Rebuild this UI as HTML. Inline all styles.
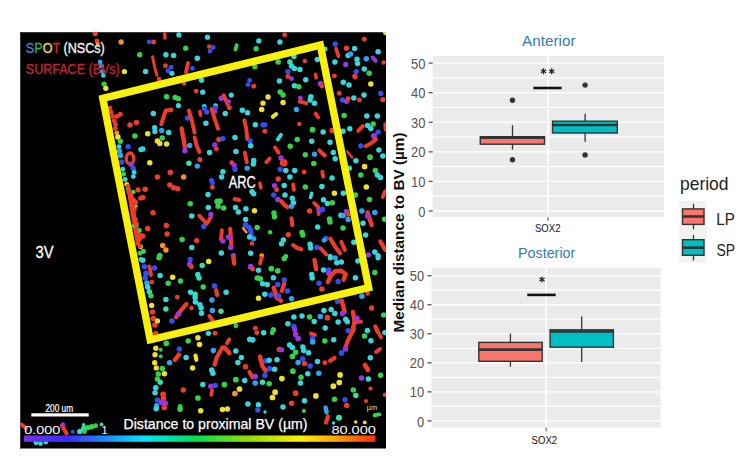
<!DOCTYPE html>
<html><head><meta charset="utf-8"><style>
html,body{margin:0;padding:0;background:#fff;width:754px;height:465px;overflow:hidden}
svg{position:absolute;left:0;top:0;font-family:"Liberation Sans",sans-serif}
</style></head><body>
<svg width="754" height="465" viewBox="0 0 754 465">
<text x="522" y="45.8" font-size="15" fill="#3679b5" textLength="53.5" lengthAdjust="spacingAndGlyphs">Anterior</text>
<rect x="432.7" y="56" width="231.30" height="161.00" fill="#ebebeb"/>
<line x1="432.7" x2="664" y1="196.21" y2="196.21" stroke="#fff" stroke-width="1.2"/>
<line x1="432.7" x2="664" y1="166.63" y2="166.63" stroke="#fff" stroke-width="1.2"/>
<line x1="432.7" x2="664" y1="137.05" y2="137.05" stroke="#fff" stroke-width="1.2"/>
<line x1="432.7" x2="664" y1="107.47" y2="107.47" stroke="#fff" stroke-width="1.2"/>
<line x1="432.7" x2="664" y1="77.89" y2="77.89" stroke="#fff" stroke-width="1.2"/>
<line x1="432.7" x2="664" y1="211.00" y2="211.00" stroke="#fff" stroke-width="1.4"/>
<line x1="428.7" x2="432.7" y1="211.00" y2="211.00" stroke="#555" stroke-width="1.3"/>
<text x="425.4" y="216.60" text-anchor="end" font-size="14" fill="#555" textLength="7.2" lengthAdjust="spacingAndGlyphs">0</text>
<line x1="432.7" x2="664" y1="181.42" y2="181.42" stroke="#fff" stroke-width="1.4"/>
<line x1="428.7" x2="432.7" y1="181.42" y2="181.42" stroke="#555" stroke-width="1.3"/>
<text x="425.4" y="187.02" text-anchor="end" font-size="14" fill="#555" textLength="14.4" lengthAdjust="spacingAndGlyphs">10</text>
<line x1="432.7" x2="664" y1="151.84" y2="151.84" stroke="#fff" stroke-width="1.4"/>
<line x1="428.7" x2="432.7" y1="151.84" y2="151.84" stroke="#555" stroke-width="1.3"/>
<text x="425.4" y="157.44" text-anchor="end" font-size="14" fill="#555" textLength="14.4" lengthAdjust="spacingAndGlyphs">20</text>
<line x1="432.7" x2="664" y1="122.26" y2="122.26" stroke="#fff" stroke-width="1.4"/>
<line x1="428.7" x2="432.7" y1="122.26" y2="122.26" stroke="#555" stroke-width="1.3"/>
<text x="425.4" y="127.86" text-anchor="end" font-size="14" fill="#555" textLength="14.4" lengthAdjust="spacingAndGlyphs">30</text>
<line x1="432.7" x2="664" y1="92.68" y2="92.68" stroke="#fff" stroke-width="1.4"/>
<line x1="428.7" x2="432.7" y1="92.68" y2="92.68" stroke="#555" stroke-width="1.3"/>
<text x="425.4" y="98.28" text-anchor="end" font-size="14" fill="#555" textLength="14.4" lengthAdjust="spacingAndGlyphs">40</text>
<line x1="432.7" x2="664" y1="63.10" y2="63.10" stroke="#fff" stroke-width="1.4"/>
<line x1="428.7" x2="432.7" y1="63.10" y2="63.10" stroke="#555" stroke-width="1.3"/>
<text x="425.4" y="68.70" text-anchor="end" font-size="14" fill="#555" textLength="14.4" lengthAdjust="spacingAndGlyphs">50</text>
<line x1="548" x2="548" y1="56" y2="217" stroke="#fff" stroke-width="1.6"/>
<line x1="548" x2="548" y1="217" y2="221" stroke="#666" stroke-width="1.1"/>
<line x1="512.5" x2="512.5" y1="125.2" y2="149.6" stroke="#333" stroke-width="1.3"/>
<rect x="480.30" y="136.70" width="64.20" height="7.50" fill="#f8766d" stroke="#333" stroke-width="1.4"/>
<line x1="480.30" x2="544.50" y1="137.6" y2="137.6" stroke="#333" stroke-width="2.6"/>
<line x1="585.1" x2="585.1" y1="113.7" y2="141.8" stroke="#333" stroke-width="1.3"/>
<rect x="552.50" y="121.20" width="64.80" height="11.80" fill="#00bfc4" stroke="#333" stroke-width="1.4"/>
<line x1="552.50" x2="617.30" y1="125" y2="125" stroke="#333" stroke-width="2.6"/>
<circle cx="512.5" cy="100.3" r="2.7" fill="#333"/>
<circle cx="512.5" cy="159.7" r="2.7" fill="#333"/>
<circle cx="585.1" cy="85.1" r="2.7" fill="#333"/>
<circle cx="585.1" cy="154.9" r="2.7" fill="#333"/>
<line x1="533.4" x2="561.6" y1="88" y2="88" stroke="#111" stroke-width="2.6"/>
<line x1="543.50" y1="68.20" x2="543.50" y2="74.20" stroke="#222" stroke-width="1.3"/><line x1="540.90" y1="69.70" x2="546.10" y2="72.70" stroke="#222" stroke-width="1.3"/><line x1="546.10" y1="69.70" x2="540.90" y2="72.70" stroke="#222" stroke-width="1.3"/><line x1="551.70" y1="68.20" x2="551.70" y2="74.20" stroke="#222" stroke-width="1.3"/><line x1="549.10" y1="69.70" x2="554.30" y2="72.70" stroke="#222" stroke-width="1.3"/><line x1="554.30" y1="69.70" x2="549.10" y2="72.70" stroke="#222" stroke-width="1.3"/>
<text x="535" y="231.8" font-size="11.5" fill="#111" textLength="25.5" lengthAdjust="spacingAndGlyphs">SOX2</text>
<text x="518" y="258.4" font-size="15" fill="#3679b5" textLength="57.3" lengthAdjust="spacingAndGlyphs">Posterior</text>
<rect x="431.5" y="268" width="229.20" height="159.50" fill="#ebebeb"/>
<line x1="431.5" x2="660.7" y1="406.38" y2="406.38" stroke="#fff" stroke-width="1.2"/>
<line x1="431.5" x2="660.7" y1="377.34" y2="377.34" stroke="#fff" stroke-width="1.2"/>
<line x1="431.5" x2="660.7" y1="348.30" y2="348.30" stroke="#fff" stroke-width="1.2"/>
<line x1="431.5" x2="660.7" y1="319.26" y2="319.26" stroke="#fff" stroke-width="1.2"/>
<line x1="431.5" x2="660.7" y1="290.22" y2="290.22" stroke="#fff" stroke-width="1.2"/>
<line x1="431.5" x2="660.7" y1="420.90" y2="420.90" stroke="#fff" stroke-width="1.4"/>
<line x1="427.5" x2="431.5" y1="420.90" y2="420.90" stroke="#555" stroke-width="1.3"/>
<text x="424.2" y="426.50" text-anchor="end" font-size="14" fill="#555" textLength="7.2" lengthAdjust="spacingAndGlyphs">0</text>
<line x1="431.5" x2="660.7" y1="391.86" y2="391.86" stroke="#fff" stroke-width="1.4"/>
<line x1="427.5" x2="431.5" y1="391.86" y2="391.86" stroke="#555" stroke-width="1.3"/>
<text x="424.2" y="397.46" text-anchor="end" font-size="14" fill="#555" textLength="14.4" lengthAdjust="spacingAndGlyphs">10</text>
<line x1="431.5" x2="660.7" y1="362.82" y2="362.82" stroke="#fff" stroke-width="1.4"/>
<line x1="427.5" x2="431.5" y1="362.82" y2="362.82" stroke="#555" stroke-width="1.3"/>
<text x="424.2" y="368.42" text-anchor="end" font-size="14" fill="#555" textLength="14.4" lengthAdjust="spacingAndGlyphs">20</text>
<line x1="431.5" x2="660.7" y1="333.78" y2="333.78" stroke="#fff" stroke-width="1.4"/>
<line x1="427.5" x2="431.5" y1="333.78" y2="333.78" stroke="#555" stroke-width="1.3"/>
<text x="424.2" y="339.38" text-anchor="end" font-size="14" fill="#555" textLength="14.4" lengthAdjust="spacingAndGlyphs">30</text>
<line x1="431.5" x2="660.7" y1="304.74" y2="304.74" stroke="#fff" stroke-width="1.4"/>
<line x1="427.5" x2="431.5" y1="304.74" y2="304.74" stroke="#555" stroke-width="1.3"/>
<text x="424.2" y="310.34" text-anchor="end" font-size="14" fill="#555" textLength="14.4" lengthAdjust="spacingAndGlyphs">40</text>
<line x1="431.5" x2="660.7" y1="275.70" y2="275.70" stroke="#fff" stroke-width="1.4"/>
<line x1="427.5" x2="431.5" y1="275.70" y2="275.70" stroke="#555" stroke-width="1.3"/>
<text x="424.2" y="281.30" text-anchor="end" font-size="14" fill="#555" textLength="14.4" lengthAdjust="spacingAndGlyphs">50</text>
<line x1="546.1" x2="546.1" y1="268" y2="427.5" stroke="#fff" stroke-width="1.6"/>
<line x1="546.1" x2="546.1" y1="427.5" y2="431.5" stroke="#666" stroke-width="1.1"/>
<line x1="510.4" x2="510.4" y1="333.6" y2="366.7" stroke="#333" stroke-width="1.3"/>
<rect x="478.80" y="342.40" width="63.40" height="18.90" fill="#f8766d" stroke="#333" stroke-width="1.4"/>
<line x1="478.80" x2="542.20" y1="349.6" y2="349.6" stroke="#333" stroke-width="2.6"/>
<line x1="581.7" x2="581.7" y1="316.5" y2="362.1" stroke="#333" stroke-width="1.3"/>
<rect x="550.10" y="329.80" width="63.30" height="17.40" fill="#00bfc4" stroke="#333" stroke-width="1.4"/>
<line x1="550.10" x2="613.40" y1="331.5" y2="331.5" stroke="#333" stroke-width="2.6"/>
<line x1="527.3" x2="555.7" y1="294.9" y2="294.9" stroke="#111" stroke-width="2.6"/>
<line x1="542.00" y1="276.50" x2="542.00" y2="282.50" stroke="#222" stroke-width="1.3"/><line x1="539.40" y1="278.00" x2="544.60" y2="281.00" stroke="#222" stroke-width="1.3"/><line x1="544.60" y1="278.00" x2="539.40" y2="281.00" stroke="#222" stroke-width="1.3"/>
<text x="531.6" y="444.2" font-size="11.5" fill="#111" textLength="25.5" lengthAdjust="spacingAndGlyphs">SOX2</text>
<text transform="translate(404.2,332.5) rotate(-90)" font-size="15" font-weight="bold" fill="#111" textLength="200" lengthAdjust="spacingAndGlyphs">Median distance to BV (µm)</text>
<text x="680" y="190.3" font-size="18.5" fill="#222" textLength="48.5" lengthAdjust="spacingAndGlyphs">period</text>
<rect x="679.5" y="201" width="27.4" height="61.7" fill="#f2f2f2"/>
<line x1="693.5" x2="693.5" y1="203.7" y2="229.3" stroke="#333" stroke-width="1.3"/>
<rect x="682.50" y="208.90" width="21.50" height="15.50" fill="#f8766d" stroke="#333" stroke-width="1.4"/>
<line x1="682.50" x2="704.00" y1="216.5" y2="216.5" stroke="#333" stroke-width="2.6"/>
<line x1="693.5" x2="693.5" y1="234.9" y2="260.5" stroke="#333" stroke-width="1.3"/>
<rect x="682.50" y="239.70" width="21.50" height="15.60" fill="#00bfc4" stroke="#333" stroke-width="1.4"/>
<line x1="682.50" x2="704.00" y1="247.7" y2="247.7" stroke="#333" stroke-width="2.6"/>
<text x="716.3" y="224.6" font-size="16" fill="#222" textLength="18.5" lengthAdjust="spacingAndGlyphs">LP</text>
<text x="716.6" y="256" font-size="16" fill="#222" textLength="18.5" lengthAdjust="spacingAndGlyphs">SP</text>
<defs><filter id="bl" x="-5%" y="-5%" width="110%" height="110%"><feGaussianBlur stdDeviation="0.55"/></filter><filter id="bl2" x="-5%" y="-5%" width="110%" height="110%"><feGaussianBlur stdDeviation="0.4"/></filter></defs>
<rect x="20" y="32" width="366" height="416.5" fill="#000"/>
<path d="M20.5,448.5 V32.5 H386" fill="none" stroke="#3a3a3a" stroke-width="1"/>
<defs><clipPath id="cp"><rect x="20" y="32" width="366" height="416.5"/></clipPath></defs><g clip-path="url(#cp)"><g filter="url(#bl)">
<circle cx="95.2" cy="33.6" r="2.65" fill="#ee3a2c"/>
<circle cx="96.9" cy="40.9" r="2.45" fill="#ee3a2c"/>
<circle cx="97.7" cy="44.1" r="2.05" fill="#f49030"/>
<circle cx="121.1" cy="42.0" r="2.65" fill="#f49030"/>
<circle cx="139.7" cy="54.7" r="2.65" fill="#34d24a"/>
<circle cx="100.1" cy="61.9" r="2.45" fill="#2ea4f0"/>
<circle cx="101.4" cy="66.0" r="2.45" fill="#2ea4f0"/>
<circle cx="102.5" cy="71.6" r="2.45" fill="#2ea4f0"/>
<circle cx="103.3" cy="75.4" r="2.25" fill="#34d6dc"/>
<circle cx="124.4" cy="71.6" r="2.65" fill="#eee030"/>
<circle cx="104.1" cy="84.1" r="2.65" fill="#34d24a"/>
<circle cx="105.8" cy="88.3" r="2.65" fill="#eee030"/>
<polyline points="164.7,33.6 165.0,38.1" fill="none" stroke="#ee3a2c" stroke-width="3.38" stroke-linecap="round" stroke-linejoin="round"/>
<circle cx="178.9" cy="34.9" r="2.65" fill="#34d6dc"/>
<circle cx="149.3" cy="42.0" r="2.45" fill="#3050f0"/>
<circle cx="153.7" cy="42.0" r="2.45" fill="#ee3a2c"/>
<circle cx="207.5" cy="37.2" r="2.65" fill="#34d6dc"/>
<circle cx="209.2" cy="46.6" r="2.25" fill="#ee3a2c"/>
<circle cx="213.2" cy="47.4" r="2.45" fill="#3050f0"/>
<circle cx="210.0" cy="51.1" r="2.45" fill="#3050f0"/>
<polyline points="236.7,45.3 235.5,49.5" fill="none" stroke="#34d24a" stroke-width="3.90" stroke-linecap="round" stroke-linejoin="round"/>
<circle cx="256.1" cy="48.7" r="2.65" fill="#34d24a"/>
<circle cx="258.8" cy="40.9" r="2.65" fill="#34d6dc"/>
<circle cx="185.7" cy="48.2" r="2.65" fill="#34d24a"/>
<circle cx="165.9" cy="54.7" r="2.75" fill="#34d6dc"/>
<circle cx="173.6" cy="55.5" r="2.75" fill="#34d6dc"/>
<circle cx="197.3" cy="58.2" r="2.75" fill="#34d6dc"/>
<polyline points="152.5,56.6 154.6,66.8 156.9,75.4" fill="none" stroke="#ee3a2c" stroke-width="2.86" stroke-linecap="round" stroke-linejoin="round"/>
<circle cx="165.5" cy="65.7" r="2.45" fill="#ee3a2c"/>
<circle cx="171.1" cy="67.3" r="2.45" fill="#3050f0"/>
<circle cx="167.9" cy="70.8" r="2.45" fill="#3050f0"/>
<circle cx="171.9" cy="73.3" r="2.65" fill="#34d6dc"/>
<circle cx="145.6" cy="71.6" r="2.75" fill="#34d6dc"/>
<polyline points="188.0,63.1 186.0,72.5" fill="none" stroke="#ee3a2c" stroke-width="3.90" stroke-linecap="round" stroke-linejoin="round"/>
<circle cx="192.5" cy="68.4" r="2.45" fill="#3050f0"/>
<circle cx="159.0" cy="78.9" r="2.25" fill="#ee3a2c"/>
<circle cx="184.1" cy="83.5" r="2.25" fill="#ee3a2c"/>
<circle cx="201.5" cy="80.2" r="2.65" fill="#34d6dc"/>
<circle cx="254.9" cy="66.8" r="2.65" fill="#34d24a"/>
<circle cx="249.6" cy="80.5" r="2.45" fill="#3050f0"/>
<circle cx="248.0" cy="84.6" r="2.45" fill="#3050f0"/>
<circle cx="253.7" cy="86.2" r="2.45" fill="#ee3a2c"/>
<circle cx="196.2" cy="91.1" r="2.45" fill="#ee3a2c"/>
<circle cx="202.7" cy="92.2" r="2.65" fill="#34d6dc"/>
<circle cx="166.6" cy="96.7" r="2.75" fill="#34d24a"/>
<circle cx="175.2" cy="97.5" r="2.75" fill="#34d24a"/>
<circle cx="178.4" cy="98.7" r="2.65" fill="#34d24a"/>
<circle cx="178.4" cy="105.6" r="2.65" fill="#34d6dc"/>
<circle cx="221.3" cy="98.3" r="2.75" fill="#9a34e0"/>
<polyline points="223.7,95.4 227.8,104.8" fill="none" stroke="#ee3a2c" stroke-width="3.90" stroke-linecap="round" stroke-linejoin="round"/>
<circle cx="228.6" cy="101.6" r="2.45" fill="#9a34e0"/>
<circle cx="231.3" cy="95.1" r="2.65" fill="#34d6dc"/>
<circle cx="204.3" cy="106.4" r="2.45" fill="#34d6dc"/>
<circle cx="215.6" cy="105.6" r="2.45" fill="#34d6dc"/>
<circle cx="263.0" cy="103.2" r="2.65" fill="#eee030"/>
<circle cx="284.7" cy="34.9" r="2.45" fill="#ee3a2c"/>
<circle cx="279.9" cy="42.0" r="2.75" fill="#34d6dc"/>
<circle cx="364.3" cy="39.3" r="2.45" fill="#ee3a2c"/>
<circle cx="335.2" cy="44.1" r="2.75" fill="#3050f0"/>
<polyline points="336.0,48.5 338.4,56.3" fill="none" stroke="#ee3a2c" stroke-width="3.64" stroke-linecap="round" stroke-linejoin="round"/>
<circle cx="346.5" cy="48.2" r="2.65" fill="#ee3a2c"/>
<circle cx="354.6" cy="48.5" r="2.75" fill="#34d6dc"/>
<circle cx="378.1" cy="51.7" r="2.75" fill="#34d6dc"/>
<circle cx="325.2" cy="49.0" r="2.45" fill="#34d6dc"/>
<circle cx="348.1" cy="55.5" r="2.75" fill="#34d6dc"/>
<circle cx="350.6" cy="54.0" r="2.65" fill="#2ea4f0"/>
<polyline points="372.7,57.6 375.7,60.8" fill="none" stroke="#9a34e0" stroke-width="4.16" stroke-linecap="round" stroke-linejoin="round"/>
<circle cx="383.7" cy="62.4" r="2.25" fill="#ee3a2c"/>
<circle cx="293.9" cy="56.6" r="2.75" fill="#34d6dc"/>
<circle cx="278.2" cy="61.9" r="2.75" fill="#34d24a"/>
<circle cx="289.9" cy="61.9" r="2.75" fill="#36e0a8"/>
<circle cx="291.5" cy="66.0" r="2.75" fill="#34d6dc"/>
<circle cx="294.4" cy="68.4" r="2.75" fill="#34d6dc"/>
<circle cx="299.9" cy="69.5" r="2.75" fill="#34d6dc"/>
<circle cx="304.8" cy="61.1" r="2.25" fill="#ee3a2c"/>
<circle cx="317.4" cy="59.5" r="2.75" fill="#34d6dc"/>
<circle cx="334.9" cy="61.9" r="2.75" fill="#34d6dc"/>
<circle cx="357.0" cy="59.2" r="2.75" fill="#34d6dc"/>
<circle cx="357.5" cy="63.6" r="2.75" fill="#34d6dc"/>
<circle cx="366.3" cy="58.7" r="2.75" fill="#2ea4f0"/>
<circle cx="345.7" cy="64.4" r="2.65" fill="#9a34e0"/>
<circle cx="287.9" cy="71.6" r="2.65" fill="#3050f0"/>
<circle cx="287.9" cy="76.5" r="2.45" fill="#ee3a2c"/>
<circle cx="291.5" cy="78.6" r="2.45" fill="#9a34e0"/>
<polyline points="315.5,74.4 316.1,77.6" fill="none" stroke="#ee3a2c" stroke-width="3.64" stroke-linecap="round" stroke-linejoin="round"/>
<circle cx="305.7" cy="79.7" r="2.75" fill="#34d6dc"/>
<circle cx="279.4" cy="80.9" r="2.75" fill="#34d6dc"/>
<circle cx="294.4" cy="85.7" r="2.75" fill="#34d6dc"/>
<circle cx="298.8" cy="86.7" r="2.75" fill="#34d24a"/>
<circle cx="334.4" cy="76.0" r="2.45" fill="#ee3a2c"/>
<circle cx="356.2" cy="71.6" r="2.65" fill="#3050f0"/>
<circle cx="354.9" cy="76.5" r="2.65" fill="#ee3a2c"/>
<circle cx="364.3" cy="68.9" r="2.75" fill="#34d6dc"/>
<circle cx="369.2" cy="73.3" r="2.75" fill="#34d24a"/>
<circle cx="343.3" cy="82.2" r="2.75" fill="#34d6dc"/>
<circle cx="349.0" cy="85.1" r="2.75" fill="#34d6dc"/>
<circle cx="370.8" cy="84.1" r="2.75" fill="#eee030"/>
<circle cx="320.6" cy="83.5" r="2.85" fill="#9a34e0"/>
<circle cx="321.9" cy="86.2" r="2.25" fill="#ee3a2c"/>
<circle cx="280.2" cy="91.9" r="2.75" fill="#34d24a"/>
<circle cx="283.1" cy="95.1" r="2.75" fill="#34d24a"/>
<circle cx="268.0" cy="97.0" r="2.75" fill="#eee030"/>
<circle cx="283.1" cy="102.4" r="2.75" fill="#eee030"/>
<circle cx="300.4" cy="98.0" r="2.45" fill="#9a34e0"/>
<polyline points="299.9,101.6 306.4,103.2" fill="none" stroke="#ee3a2c" stroke-width="3.90" stroke-linecap="round" stroke-linejoin="round"/>
<circle cx="310.9" cy="96.7" r="2.75" fill="#34d6dc"/>
<circle cx="310.1" cy="100.0" r="2.65" fill="#34d6dc"/>
<circle cx="314.5" cy="103.2" r="2.75" fill="#34d6dc"/>
<circle cx="339.2" cy="93.2" r="2.45" fill="#ee3a2c"/>
<circle cx="342.5" cy="100.0" r="2.65" fill="#3050f0"/>
<circle cx="346.5" cy="101.3" r="2.65" fill="#9a34e0"/>
<circle cx="348.1" cy="98.7" r="2.45" fill="#ee3a2c"/>
<circle cx="353.8" cy="98.0" r="2.75" fill="#34d6dc"/>
<circle cx="364.0" cy="95.1" r="2.75" fill="#34d6dc"/>
<circle cx="359.5" cy="100.0" r="2.45" fill="#ee3a2c"/>
<circle cx="380.8" cy="93.5" r="2.65" fill="#3050f0"/>
<circle cx="382.9" cy="99.6" r="2.65" fill="#ee3a2c"/>
<circle cx="385.4" cy="32.8" r="2.45" fill="#eee030"/>
<circle cx="109.8" cy="108.3" r="2.45" fill="#ee3a2c"/>
<circle cx="110.9" cy="112.2" r="2.45" fill="#ee3a2c"/>
<circle cx="112.6" cy="116.4" r="2.45" fill="#ee3a2c"/>
<circle cx="114.2" cy="120.8" r="2.45" fill="#ee3a2c"/>
<circle cx="115.5" cy="124.5" r="2.45" fill="#ee3a2c"/>
<circle cx="115.1" cy="128.4" r="2.45" fill="#ee3a2c"/>
<circle cx="117.1" cy="116.4" r="2.45" fill="#ee3a2c"/>
<circle cx="120.3" cy="114.3" r="2.45" fill="#ee3a2c"/>
<circle cx="116.8" cy="132.9" r="2.45" fill="#f49030"/>
<circle cx="117.9" cy="136.9" r="2.75" fill="#eee030"/>
<circle cx="120.3" cy="141.3" r="2.75" fill="#34d24a"/>
<circle cx="119.0" cy="146.6" r="2.45" fill="#34d6dc"/>
<circle cx="119.5" cy="151.0" r="2.65" fill="#2ea4f0"/>
<circle cx="120.6" cy="155.5" r="2.65" fill="#2ea4f0"/>
<circle cx="121.6" cy="162.0" r="2.65" fill="#3050f0"/>
<circle cx="122.8" cy="169.3" r="2.45" fill="#34d6dc"/>
<circle cx="123.6" cy="174.2" r="2.45" fill="#34d24a"/>
<circle cx="125.2" cy="179.5" r="2.45" fill="#34d6dc"/>
<circle cx="130.0" cy="125.1" r="2.75" fill="#ee3a2c"/>
<circle cx="136.5" cy="122.4" r="2.75" fill="#ee3a2c"/>
<circle cx="134.9" cy="136.1" r="2.75" fill="#34d24a"/>
<circle cx="128.1" cy="146.6" r="2.65" fill="#3050f0"/>
<ellipse cx="130.0" cy="158.5" rx="3.8" ry="5.5" fill="none" stroke="#ee3a2c" stroke-width="3.4"/>
<circle cx="131.3" cy="164.4" r="2.65" fill="#9a34e0"/>
<circle cx="133.3" cy="168.5" r="2.65" fill="#3050f0"/>
<circle cx="134.1" cy="172.5" r="2.45" fill="#34d6dc"/>
<circle cx="133.3" cy="176.6" r="2.45" fill="#34d6dc"/>
<circle cx="141.0" cy="149.4" r="2.75" fill="#34d6dc"/>
<polyline points="171.4,109.9 165.9,110.6 163.8,115.9 161.4,124.0" fill="none" stroke="#ee3a2c" stroke-width="4.16" stroke-linecap="round" stroke-linejoin="round"/>
<circle cx="153.3" cy="113.5" r="2.75" fill="#34d6dc"/>
<circle cx="154.6" cy="127.7" r="2.65" fill="#34d6dc"/>
<circle cx="154.9" cy="131.6" r="2.65" fill="#34d6dc"/>
<circle cx="161.7" cy="130.5" r="2.65" fill="#2ea4f0"/>
<circle cx="168.7" cy="132.6" r="2.75" fill="#34d6dc"/>
<circle cx="147.7" cy="133.7" r="2.75" fill="#eee030"/>
<circle cx="162.2" cy="138.1" r="2.75" fill="#34d24a"/>
<circle cx="157.4" cy="141.0" r="2.75" fill="#eee030"/>
<circle cx="159.8" cy="143.4" r="2.75" fill="#eee030"/>
<circle cx="166.6" cy="143.9" r="2.75" fill="#eee030"/>
<circle cx="142.8" cy="149.1" r="2.75" fill="#34d6dc"/>
<circle cx="149.8" cy="162.8" r="2.75" fill="#eee030"/>
<polyline points="181.6,128.4 183.3,137.7 184.9,147.1" fill="none" stroke="#ee3a2c" stroke-width="4.42" stroke-linecap="round" stroke-linejoin="round"/>
<circle cx="187.6" cy="118.0" r="2.65" fill="#3050f0"/>
<polyline points="188.9,110.6 192.2,121.6 194.6,132.6" fill="none" stroke="#ee3a2c" stroke-width="3.90" stroke-linecap="round" stroke-linejoin="round"/>
<polyline points="194.6,137.4 196.7,145.8 199.4,152.0" fill="none" stroke="#ee3a2c" stroke-width="3.90" stroke-linecap="round" stroke-linejoin="round"/>
<circle cx="189.7" cy="145.5" r="2.65" fill="#2ea4f0"/>
<circle cx="184.9" cy="150.7" r="2.75" fill="#9a34e0"/>
<circle cx="205.9" cy="123.2" r="2.75" fill="#34d6dc"/>
<polyline points="199.9,111.5 200.6,115.1" fill="none" stroke="#ee3a2c" stroke-width="3.64" stroke-linecap="round" stroke-linejoin="round"/>
<circle cx="204.3" cy="108.6" r="2.65" fill="#3050f0"/>
<circle cx="206.7" cy="111.9" r="2.65" fill="#3050f0"/>
<circle cx="214.8" cy="111.0" r="2.65" fill="#9a34e0"/>
<circle cx="215.6" cy="107.8" r="2.45" fill="#3050f0"/>
<polyline points="211.6,108.9 214.8,119.1 218.1,128.8" fill="none" stroke="#ee3a2c" stroke-width="3.90" stroke-linecap="round" stroke-linejoin="round"/>
<circle cx="225.3" cy="113.5" r="2.75" fill="#34d6dc"/>
<circle cx="229.4" cy="107.8" r="2.45" fill="#ee3a2c"/>
<circle cx="218.9" cy="139.4" r="2.65" fill="#ee3a2c"/>
<circle cx="222.9" cy="138.6" r="2.65" fill="#3050f0"/>
<circle cx="214.8" cy="145.0" r="2.65" fill="#9a34e0"/>
<circle cx="216.4" cy="149.1" r="2.45" fill="#ee3a2c"/>
<circle cx="209.6" cy="152.6" r="2.75" fill="#34d6dc"/>
<circle cx="199.9" cy="159.6" r="2.65" fill="#ee3a2c"/>
<circle cx="188.9" cy="163.3" r="2.75" fill="#36e0a8"/>
<circle cx="197.3" cy="166.1" r="2.65" fill="#2ea4f0"/>
<circle cx="170.3" cy="172.5" r="2.75" fill="#ee3a2c"/>
<circle cx="157.4" cy="176.9" r="2.75" fill="#ee3a2c"/>
<circle cx="183.7" cy="176.9" r="2.75" fill="#f49030"/>
<circle cx="235.0" cy="137.4" r="2.75" fill="#34d6dc"/>
<circle cx="235.9" cy="151.5" r="2.75" fill="#34d6dc"/>
<polyline points="244.3,120.3 246.4,129.7 247.2,139.0" fill="none" stroke="#ee3a2c" stroke-width="3.90" stroke-linecap="round" stroke-linejoin="round"/>
<circle cx="242.3" cy="110.2" r="2.75" fill="#34d6dc"/>
<circle cx="247.5" cy="112.7" r="2.75" fill="#34d6dc"/>
<circle cx="255.3" cy="124.8" r="2.75" fill="#34d6dc"/>
<circle cx="263.0" cy="124.8" r="2.65" fill="#3050f0"/>
<circle cx="261.7" cy="109.4" r="2.75" fill="#eee030"/>
<circle cx="250.1" cy="141.0" r="2.65" fill="#3050f0"/>
<circle cx="250.7" cy="145.8" r="2.75" fill="#34d6dc"/>
<polyline points="244.8,152.6 246.9,162.3" fill="none" stroke="#ee3a2c" stroke-width="3.90" stroke-linecap="round" stroke-linejoin="round"/>
<circle cx="253.7" cy="160.4" r="2.75" fill="#34d6dc"/>
<circle cx="253.3" cy="164.0" r="2.75" fill="#34d6dc"/>
<circle cx="231.8" cy="162.8" r="2.45" fill="#ee3a2c"/>
<circle cx="234.2" cy="165.3" r="2.65" fill="#9a34e0"/>
<circle cx="235.0" cy="169.3" r="2.65" fill="#3050f0"/>
<circle cx="247.2" cy="168.2" r="2.65" fill="#2ea4f0"/>
<circle cx="222.9" cy="171.7" r="2.75" fill="#34d6dc"/>
<circle cx="221.6" cy="176.9" r="2.75" fill="#34d6dc"/>
<circle cx="211.6" cy="180.6" r="2.65" fill="#3050f0"/>
<polyline points="272.9,116.7 276.1,114.1" fill="none" stroke="#eee030" stroke-width="4.16" stroke-linecap="round" stroke-linejoin="round"/>
<circle cx="296.4" cy="109.4" r="2.65" fill="#2ea4f0"/>
<polyline points="315.5,113.5 318.2,117.5" fill="none" stroke="#ee3a2c" stroke-width="3.90" stroke-linecap="round" stroke-linejoin="round"/>
<circle cx="299.3" cy="124.0" r="2.25" fill="#ee3a2c"/>
<circle cx="264.8" cy="124.8" r="2.65" fill="#3050f0"/>
<circle cx="264.8" cy="131.3" r="2.45" fill="#ee3a2c"/>
<circle cx="312.5" cy="129.7" r="2.85" fill="#34d24a"/>
<circle cx="323.1" cy="132.1" r="2.75" fill="#34d6dc"/>
<circle cx="332.0" cy="130.5" r="2.65" fill="#ee3a2c"/>
<polyline points="277.8,139.4 281.0,134.8" fill="none" stroke="#34d6dc" stroke-width="3.90" stroke-linecap="round" stroke-linejoin="round"/>
<circle cx="297.2" cy="139.4" r="2.75" fill="#34d24a"/>
<circle cx="311.7" cy="141.3" r="2.75" fill="#34d6dc"/>
<circle cx="330.0" cy="142.3" r="2.75" fill="#34d6dc"/>
<circle cx="290.2" cy="146.2" r="2.75" fill="#34d24a"/>
<polyline points="275.0,147.5 278.6,152.6" fill="none" stroke="#ee3a2c" stroke-width="3.90" stroke-linecap="round" stroke-linejoin="round"/>
<polyline points="319.3,150.4 324.7,155.5" fill="none" stroke="#ee3a2c" stroke-width="4.16" stroke-linecap="round" stroke-linejoin="round"/>
<circle cx="305.3" cy="154.7" r="2.75" fill="#34d24a"/>
<circle cx="314.5" cy="154.2" r="2.65" fill="#2ea4f0"/>
<circle cx="333.3" cy="152.6" r="2.75" fill="#34d6dc"/>
<circle cx="335.2" cy="158.8" r="2.75" fill="#34d6dc"/>
<polyline points="266.4,162.3 269.7,158.5" fill="none" stroke="#ee3a2c" stroke-width="3.90" stroke-linecap="round" stroke-linejoin="round"/>
<circle cx="281.0" cy="158.0" r="2.65" fill="#9a34e0"/>
<circle cx="283.7" cy="162.8" r="3.85" fill="#ee3a2c"/>
<circle cx="313.8" cy="163.6" r="2.75" fill="#34d24a"/>
<circle cx="280.2" cy="169.3" r="2.65" fill="#3050f0"/>
<circle cx="285.8" cy="170.4" r="2.75" fill="#34d6dc"/>
<circle cx="294.7" cy="170.4" r="2.75" fill="#34d6dc"/>
<circle cx="304.1" cy="172.0" r="2.45" fill="#ee3a2c"/>
<polyline points="322.3,171.7 323.1,176.6" fill="none" stroke="#ee3a2c" stroke-width="3.90" stroke-linecap="round" stroke-linejoin="round"/>
<circle cx="289.9" cy="176.9" r="2.75" fill="#34d6dc"/>
<circle cx="278.2" cy="179.0" r="2.65" fill="#ee3a2c"/>
<circle cx="332.0" cy="177.9" r="2.75" fill="#34d6dc"/>
<circle cx="344.1" cy="115.4" r="2.75" fill="#34d24a"/>
<circle cx="366.8" cy="115.9" r="2.75" fill="#34d6dc"/>
<circle cx="377.3" cy="115.9" r="2.75" fill="#34d6dc"/>
<circle cx="343.0" cy="131.3" r="2.75" fill="#34d6dc"/>
<circle cx="349.8" cy="128.8" r="2.75" fill="#34d6dc"/>
<polyline points="358.2,130.9 362.7,126.1" fill="none" stroke="#ee3a2c" stroke-width="3.90" stroke-linecap="round" stroke-linejoin="round"/>
<circle cx="367.6" cy="125.6" r="2.75" fill="#34d6dc"/>
<circle cx="370.8" cy="128.4" r="2.75" fill="#34d6dc"/>
<circle cx="373.2" cy="124.0" r="2.75" fill="#34d24a"/>
<circle cx="378.1" cy="132.1" r="2.65" fill="#3050f0"/>
<circle cx="374.0" cy="136.1" r="3.05" fill="#9a34e0"/>
<polyline points="365.6,146.2 370.8,143.4 376.0,139.4" fill="none" stroke="#ee3a2c" stroke-width="3.90" stroke-linecap="round" stroke-linejoin="round"/>
<circle cx="360.8" cy="145.8" r="2.65" fill="#3050f0"/>
<polyline points="385.0,124.0 385.4,129.7" fill="none" stroke="#ee3a2c" stroke-width="3.38" stroke-linecap="round" stroke-linejoin="round"/>
<circle cx="378.9" cy="149.9" r="2.75" fill="#34d6dc"/>
<circle cx="382.9" cy="155.9" r="2.75" fill="#34d6dc"/>
<polyline points="347.3,151.5 352.2,157.5" fill="none" stroke="#ee3a2c" stroke-width="2.34" stroke-linecap="round" stroke-linejoin="round"/>
<circle cx="355.9" cy="160.7" r="2.75" fill="#34d6dc"/>
<circle cx="370.0" cy="157.2" r="2.85" fill="#34d24a"/>
<circle cx="364.6" cy="166.5" r="2.85" fill="#eee030"/>
<circle cx="349.4" cy="168.2" r="2.65" fill="#34d6dc"/>
<circle cx="375.3" cy="170.4" r="2.75" fill="#34d24a"/>
<circle cx="377.3" cy="175.0" r="2.75" fill="#34d6dc"/>
<circle cx="380.5" cy="177.4" r="2.75" fill="#34d6dc"/>
<circle cx="360.8" cy="175.0" r="2.75" fill="#34d24a"/>
<circle cx="126.8" cy="184.4" r="2.45" fill="#eee030"/>
<circle cx="128.1" cy="188.5" r="2.45" fill="#34d24a"/>
<circle cx="133.3" cy="192.0" r="2.25" fill="#34d24a"/>
<circle cx="128.7" cy="191.7" r="2.45" fill="#ee3a2c"/>
<circle cx="130.8" cy="196.6" r="2.65" fill="#ee3a2c"/>
<circle cx="133.3" cy="200.1" r="2.65" fill="#ee3a2c"/>
<circle cx="131.7" cy="204.7" r="2.65" fill="#ee3a2c"/>
<circle cx="134.1" cy="209.5" r="2.65" fill="#ee3a2c"/>
<circle cx="133.3" cy="214.4" r="2.65" fill="#ee3a2c"/>
<circle cx="135.2" cy="219.2" r="2.65" fill="#ee3a2c"/>
<circle cx="136.5" cy="223.7" r="2.45" fill="#ee3a2c"/>
<circle cx="135.2" cy="228.9" r="2.45" fill="#ee3a2c"/>
<circle cx="138.1" cy="234.1" r="2.45" fill="#ee3a2c"/>
<circle cx="139.7" cy="239.0" r="2.45" fill="#ee3a2c"/>
<circle cx="137.8" cy="243.5" r="2.45" fill="#ee3a2c"/>
<circle cx="141.0" cy="235.4" r="2.45" fill="#ee3a2c"/>
<circle cx="131.7" cy="201.1" r="2.25" fill="#f49030"/>
<circle cx="135.7" cy="202.2" r="2.45" fill="#ee3a2c"/>
<circle cx="138.1" cy="189.8" r="2.65" fill="#ee3a2c"/>
<circle cx="140.6" cy="198.2" r="2.45" fill="#ee3a2c"/>
<circle cx="136.5" cy="226.0" r="2.25" fill="#34d24a"/>
<circle cx="139.4" cy="230.5" r="2.45" fill="#34d24a"/>
<circle cx="140.6" cy="246.7" r="2.45" fill="#eee030"/>
<circle cx="140.1" cy="253.2" r="2.45" fill="#34d24a"/>
<circle cx="169.8" cy="184.9" r="2.75" fill="#ee3a2c"/>
<circle cx="173.6" cy="187.7" r="2.75" fill="#ee3a2c"/>
<circle cx="177.6" cy="188.8" r="2.75" fill="#ee3a2c"/>
<circle cx="145.2" cy="189.3" r="2.75" fill="#ee3a2c"/>
<circle cx="142.8" cy="197.4" r="2.65" fill="#ee3a2c"/>
<circle cx="153.0" cy="212.7" r="2.75" fill="#ee3a2c"/>
<circle cx="166.3" cy="225.4" r="2.75" fill="#ee3a2c"/>
<circle cx="147.7" cy="228.6" r="2.75" fill="#ee3a2c"/>
<circle cx="167.1" cy="234.1" r="2.75" fill="#ee3a2c"/>
<circle cx="142.8" cy="236.2" r="2.65" fill="#ee3a2c"/>
<circle cx="162.7" cy="245.4" r="2.75" fill="#f49030"/>
<circle cx="165.9" cy="250.0" r="2.75" fill="#f49030"/>
<circle cx="143.3" cy="251.3" r="2.65" fill="#34d24a"/>
<circle cx="159.8" cy="255.6" r="2.75" fill="#34d24a"/>
<circle cx="190.2" cy="203.8" r="2.75" fill="#34d24a"/>
<circle cx="191.8" cy="216.0" r="2.75" fill="#34d6dc"/>
<circle cx="182.1" cy="239.4" r="2.75" fill="#34d24a"/>
<circle cx="191.8" cy="247.5" r="2.75" fill="#34d6dc"/>
<circle cx="196.7" cy="240.6" r="2.65" fill="#ee3a2c"/>
<circle cx="208.0" cy="194.6" r="2.75" fill="#34d6dc"/>
<circle cx="212.4" cy="182.8" r="2.45" fill="#3050f0"/>
<circle cx="212.4" cy="187.2" r="2.45" fill="#ee3a2c"/>
<circle cx="208.3" cy="207.6" r="2.75" fill="#34d6dc"/>
<polyline points="199.4,215.7 206.7,223.7 210.8,217.3" fill="none" stroke="#ee3a2c" stroke-width="3.90" stroke-linecap="round" stroke-linejoin="round"/>
<circle cx="210.8" cy="214.4" r="2.65" fill="#9a34e0"/>
<circle cx="203.8" cy="226.5" r="2.65" fill="#3050f0"/>
<circle cx="217.2" cy="201.4" r="2.85" fill="#34d24a"/>
<circle cx="220.0" cy="201.1" r="2.85" fill="#34d24a"/>
<circle cx="218.1" cy="206.3" r="2.75" fill="#34d24a"/>
<circle cx="223.7" cy="207.9" r="2.75" fill="#34d24a"/>
<polyline points="221.9,230.2 221.0,239.4" fill="none" stroke="#ee3a2c" stroke-width="3.90" stroke-linecap="round" stroke-linejoin="round"/>
<polyline points="230.2,228.9 231.3,244.3" fill="none" stroke="#ee3a2c" stroke-width="4.16" stroke-linecap="round" stroke-linejoin="round"/>
<circle cx="228.6" cy="237.0" r="2.85" fill="#9a34e0"/>
<circle cx="222.9" cy="241.1" r="2.65" fill="#9a34e0"/>
<circle cx="230.7" cy="247.5" r="2.65" fill="#9a34e0"/>
<circle cx="221.3" cy="252.9" r="2.75" fill="#34d6dc"/>
<circle cx="233.4" cy="255.6" r="2.65" fill="#9a34e0"/>
<polyline points="234.6,199.0 239.1,200.1" fill="none" stroke="#ee3a2c" stroke-width="4.16" stroke-linecap="round" stroke-linejoin="round"/>
<circle cx="252.0" cy="191.7" r="2.75" fill="#34d6dc"/>
<circle cx="253.7" cy="193.7" r="2.75" fill="#34d6dc"/>
<circle cx="235.5" cy="207.6" r="2.75" fill="#34d6dc"/>
<circle cx="238.3" cy="211.9" r="2.75" fill="#34d6dc"/>
<circle cx="245.9" cy="208.7" r="2.75" fill="#34d6dc"/>
<circle cx="254.5" cy="210.8" r="2.75" fill="#eee030"/>
<circle cx="245.6" cy="219.5" r="2.75" fill="#34d6dc"/>
<circle cx="245.6" cy="224.9" r="2.75" fill="#3050f0"/>
<circle cx="248.8" cy="227.3" r="2.75" fill="#3050f0"/>
<circle cx="250.7" cy="230.5" r="2.65" fill="#3050f0"/>
<circle cx="251.2" cy="234.1" r="2.65" fill="#3050f0"/>
<polyline points="243.1,228.1 246.4,232.2" fill="none" stroke="#f49030" stroke-width="2.60" stroke-linecap="round" stroke-linejoin="round"/>
<circle cx="249.6" cy="237.0" r="2.75" fill="#34d6dc"/>
<circle cx="253.7" cy="238.6" r="2.65" fill="#2ea4f0"/>
<circle cx="257.2" cy="227.6" r="2.75" fill="#34d24a"/>
<circle cx="252.0" cy="243.5" r="2.25" fill="#ee3a2c"/>
<circle cx="250.7" cy="253.2" r="2.75" fill="#34d6dc"/>
<polyline points="259.8,183.3 260.9,187.7" fill="none" stroke="#ee3a2c" stroke-width="3.64" stroke-linecap="round" stroke-linejoin="round"/>
<circle cx="261.7" cy="255.6" r="2.45" fill="#f49030"/>
<circle cx="274.5" cy="185.6" r="2.65" fill="#9a34e0"/>
<circle cx="276.6" cy="189.8" r="2.45" fill="#ee3a2c"/>
<circle cx="284.2" cy="185.6" r="2.75" fill="#34d6dc"/>
<polyline points="293.1,184.4 293.9,189.8" fill="none" stroke="#ee3a2c" stroke-width="3.90" stroke-linecap="round" stroke-linejoin="round"/>
<circle cx="305.3" cy="186.9" r="2.75" fill="#34d24a"/>
<circle cx="321.9" cy="186.5" r="2.75" fill="#34d6dc"/>
<circle cx="273.7" cy="194.9" r="2.65" fill="#3050f0"/>
<circle cx="285.0" cy="194.9" r="2.75" fill="#34d6dc"/>
<polyline points="311.7,193.3 310.6,197.4" fill="none" stroke="#34d6dc" stroke-width="3.64" stroke-linecap="round" stroke-linejoin="round"/>
<circle cx="334.4" cy="193.3" r="2.75" fill="#eee030"/>
<circle cx="343.3" cy="193.3" r="2.75" fill="#34d6dc"/>
<circle cx="277.8" cy="199.5" r="2.75" fill="#9a34e0"/>
<polyline points="281.0,201.1 284.2,204.7 287.5,207.1" fill="none" stroke="#ee3a2c" stroke-width="4.16" stroke-linecap="round" stroke-linejoin="round"/>
<circle cx="292.3" cy="198.2" r="2.75" fill="#34d6dc"/>
<circle cx="293.4" cy="202.7" r="2.75" fill="#34d6dc"/>
<circle cx="291.5" cy="206.3" r="2.65" fill="#2ea4f0"/>
<polyline points="314.2,203.0 318.2,207.1 318.7,214.0" fill="none" stroke="#ee3a2c" stroke-width="3.90" stroke-linecap="round" stroke-linejoin="round"/>
<circle cx="319.8" cy="210.3" r="2.75" fill="#9a34e0"/>
<circle cx="322.6" cy="209.5" r="2.65" fill="#3050f0"/>
<circle cx="323.5" cy="199.8" r="2.75" fill="#34d6dc"/>
<circle cx="327.4" cy="203.4" r="2.75" fill="#34d6dc"/>
<circle cx="332.3" cy="202.7" r="2.75" fill="#34d24a"/>
<circle cx="309.6" cy="211.1" r="2.75" fill="#ee3a2c"/>
<circle cx="274.0" cy="213.1" r="2.75" fill="#34d24a"/>
<circle cx="274.5" cy="216.8" r="2.75" fill="#34d24a"/>
<polyline points="291.5,218.4 292.3,224.9" fill="none" stroke="#ee3a2c" stroke-width="4.16" stroke-linecap="round" stroke-linejoin="round"/>
<circle cx="346.5" cy="211.4" r="2.75" fill="#9a34e0"/>
<circle cx="348.5" cy="214.4" r="2.45" fill="#ee3a2c"/>
<circle cx="340.9" cy="215.2" r="2.75" fill="#34d6dc"/>
<circle cx="343.3" cy="215.7" r="2.65" fill="#2ea4f0"/>
<circle cx="348.1" cy="219.5" r="2.65" fill="#2ea4f0"/>
<circle cx="329.5" cy="218.9" r="2.75" fill="#34d24a"/>
<circle cx="330.0" cy="222.1" r="2.75" fill="#34d24a"/>
<circle cx="317.7" cy="227.0" r="2.75" fill="#34d6dc"/>
<circle cx="343.0" cy="228.1" r="2.75" fill="#34d24a"/>
<circle cx="270.1" cy="232.2" r="2.25" fill="#34d24a"/>
<circle cx="288.3" cy="234.6" r="2.65" fill="#ee3a2c"/>
<circle cx="302.0" cy="232.5" r="2.75" fill="#34d24a"/>
<circle cx="302.8" cy="235.1" r="2.75" fill="#34d24a"/>
<circle cx="283.4" cy="239.9" r="2.75" fill="#34d6dc"/>
<circle cx="281.5" cy="243.8" r="2.75" fill="#34d6dc"/>
<polyline points="293.1,245.1 297.2,248.0 301.2,249.2" fill="none" stroke="#ee3a2c" stroke-width="4.16" stroke-linecap="round" stroke-linejoin="round"/>
<circle cx="310.1" cy="244.3" r="2.75" fill="#34d6dc"/>
<circle cx="310.6" cy="248.0" r="2.75" fill="#34d6dc"/>
<circle cx="317.1" cy="247.5" r="2.75" fill="#3050f0"/>
<circle cx="325.8" cy="238.6" r="2.75" fill="#3050f0"/>
<circle cx="324.2" cy="240.3" r="2.45" fill="#2ea4f0"/>
<polyline points="330.3,238.6 335.2,246.7 340.1,253.2" fill="none" stroke="#ee3a2c" stroke-width="4.16" stroke-linecap="round" stroke-linejoin="round"/>
<polyline points="341.3,241.9 344.9,250.0" fill="none" stroke="#ee3a2c" stroke-width="3.90" stroke-linecap="round" stroke-linejoin="round"/>
<polyline points="320.6,248.3 326.3,254.5" fill="none" stroke="#ee3a2c" stroke-width="3.90" stroke-linecap="round" stroke-linejoin="round"/>
<circle cx="353.8" cy="242.2" r="2.75" fill="#34d6dc"/>
<circle cx="285.8" cy="256.4" r="2.45" fill="#34d24a"/>
<circle cx="330.3" cy="256.1" r="2.45" fill="#34d6dc"/>
<circle cx="366.3" cy="186.9" r="2.75" fill="#eee030"/>
<circle cx="355.4" cy="194.9" r="2.75" fill="#34d24a"/>
<circle cx="369.5" cy="199.5" r="2.75" fill="#34d24a"/>
<polyline points="382.9,196.9 385.0,191.4" fill="none" stroke="#ee3a2c" stroke-width="3.90" stroke-linecap="round" stroke-linejoin="round"/>
<circle cx="361.9" cy="211.1" r="2.75" fill="#2ea4f0"/>
<polyline points="367.6,212.4 370.0,220.0 371.6,224.9" fill="none" stroke="#ee3a2c" stroke-width="4.42" stroke-linecap="round" stroke-linejoin="round"/>
<circle cx="367.6" cy="216.0" r="2.75" fill="#9a34e0"/>
<circle cx="374.8" cy="212.4" r="2.75" fill="#2ea4f0"/>
<circle cx="363.0" cy="223.3" r="2.75" fill="#34d6dc"/>
<circle cx="384.6" cy="219.2" r="2.75" fill="#34d24a"/>
<circle cx="365.6" cy="235.1" r="2.75" fill="#34d6dc"/>
<polyline points="380.5,241.5 385.4,250.0" fill="none" stroke="#ee3a2c" stroke-width="4.42" stroke-linecap="round" stroke-linejoin="round"/>
<circle cx="374.8" cy="251.9" r="2.75" fill="#34d6dc"/>
<circle cx="368.4" cy="254.8" r="2.65" fill="#9a34e0"/>
<circle cx="378.1" cy="255.6" r="2.65" fill="#34d6dc"/>
<circle cx="141.0" cy="259.4" r="2.45" fill="#36e0a8"/>
<circle cx="159.0" cy="257.8" r="2.75" fill="#34d24a"/>
<circle cx="142.8" cy="260.2" r="2.75" fill="#34d6dc"/>
<circle cx="144.4" cy="266.7" r="2.75" fill="#3050f0"/>
<polyline points="149.3,266.4 150.4,270.8 150.9,275.1" fill="none" stroke="#ee3a2c" stroke-width="3.90" stroke-linecap="round" stroke-linejoin="round"/>
<circle cx="154.6" cy="268.0" r="2.75" fill="#3050f0"/>
<circle cx="146.0" cy="273.2" r="2.75" fill="#3050f0"/>
<circle cx="145.2" cy="278.0" r="2.75" fill="#3050f0"/>
<circle cx="146.9" cy="282.9" r="2.75" fill="#2ea4f0"/>
<circle cx="147.7" cy="286.9" r="2.75" fill="#34d6dc"/>
<circle cx="149.3" cy="291.8" r="2.75" fill="#36e0a8"/>
<circle cx="150.9" cy="295.8" r="2.75" fill="#34d24a"/>
<circle cx="151.7" cy="305.5" r="2.65" fill="#eee030"/>
<circle cx="152.5" cy="312.0" r="2.75" fill="#ee3a2c"/>
<circle cx="153.3" cy="318.5" r="2.75" fill="#ee3a2c"/>
<circle cx="154.9" cy="325.0" r="2.75" fill="#ee3a2c"/>
<circle cx="157.4" cy="320.9" r="2.65" fill="#eee030"/>
<circle cx="151.7" cy="282.1" r="2.45" fill="#ee3a2c"/>
<circle cx="160.1" cy="275.6" r="2.75" fill="#34d6dc"/>
<circle cx="172.7" cy="277.2" r="2.75" fill="#eee030"/>
<circle cx="180.5" cy="280.9" r="2.75" fill="#34d24a"/>
<circle cx="168.2" cy="283.2" r="2.75" fill="#34d24a"/>
<circle cx="190.2" cy="259.4" r="2.65" fill="#3050f0"/>
<circle cx="189.7" cy="264.3" r="2.75" fill="#9a34e0"/>
<circle cx="191.4" cy="266.7" r="2.45" fill="#ee3a2c"/>
<circle cx="202.2" cy="265.4" r="2.75" fill="#36e0a8"/>
<circle cx="208.7" cy="261.5" r="2.75" fill="#eee030"/>
<circle cx="197.8" cy="274.5" r="2.75" fill="#34d6dc"/>
<circle cx="199.0" cy="278.0" r="2.75" fill="#36e0a8"/>
<circle cx="203.2" cy="286.9" r="2.75" fill="#34d24a"/>
<circle cx="214.5" cy="286.1" r="2.75" fill="#3050f0"/>
<polyline points="216.1,290.2 217.2,295.0" fill="none" stroke="#ee3a2c" stroke-width="4.16" stroke-linecap="round" stroke-linejoin="round"/>
<circle cx="226.1" cy="292.3" r="2.75" fill="#34d6dc"/>
<circle cx="190.5" cy="292.3" r="2.75" fill="#34d6dc"/>
<circle cx="195.1" cy="294.2" r="2.75" fill="#36e0a8"/>
<circle cx="195.1" cy="297.5" r="2.75" fill="#34d6dc"/>
<circle cx="195.4" cy="302.0" r="2.75" fill="#34d6dc"/>
<circle cx="177.3" cy="297.1" r="2.45" fill="#ee3a2c"/>
<circle cx="165.9" cy="299.4" r="2.75" fill="#34d6dc"/>
<circle cx="211.9" cy="299.9" r="2.75" fill="#2ea4f0"/>
<circle cx="199.9" cy="304.7" r="2.75" fill="#34d6dc"/>
<circle cx="201.1" cy="308.0" r="2.75" fill="#34d6dc"/>
<polyline points="186.5,303.9 181.6,309.6 176.0,317.2" fill="none" stroke="#ee3a2c" stroke-width="4.16" stroke-linecap="round" stroke-linejoin="round"/>
<circle cx="178.4" cy="314.0" r="2.75" fill="#9a34e0"/>
<circle cx="191.4" cy="308.0" r="2.25" fill="#ee3a2c"/>
<circle cx="165.9" cy="309.1" r="2.75" fill="#36e0a8"/>
<circle cx="212.4" cy="310.4" r="2.75" fill="#2ea4f0"/>
<circle cx="221.0" cy="311.2" r="2.75" fill="#36e0a8"/>
<circle cx="201.5" cy="313.3" r="2.75" fill="#34d6dc"/>
<polyline points="209.6,316.1 213.2,321.7" fill="none" stroke="#ee3a2c" stroke-width="4.16" stroke-linecap="round" stroke-linejoin="round"/>
<circle cx="171.9" cy="320.9" r="2.75" fill="#3050f0"/>
<polyline points="233.4,257.8 234.2,263.5" fill="none" stroke="#ee3a2c" stroke-width="4.42" stroke-linecap="round" stroke-linejoin="round"/>
<circle cx="250.7" cy="266.7" r="2.85" fill="#9a34e0"/>
<circle cx="252.8" cy="269.1" r="2.45" fill="#ee3a2c"/>
<polyline points="261.7,257.8 260.1,263.5" fill="none" stroke="#ee3a2c" stroke-width="3.90" stroke-linecap="round" stroke-linejoin="round"/>
<circle cx="258.5" cy="270.3" r="2.75" fill="#34d6dc"/>
<circle cx="257.2" cy="278.0" r="2.75" fill="#34d24a"/>
<circle cx="260.4" cy="278.8" r="2.75" fill="#34d24a"/>
<circle cx="262.6" cy="283.7" r="2.75" fill="#34d6dc"/>
<circle cx="258.5" cy="298.3" r="2.75" fill="#eee030"/>
<circle cx="255.3" cy="328.2" r="2.45" fill="#ee3a2c"/>
<circle cx="235.9" cy="325.8" r="2.45" fill="#34d24a"/>
<circle cx="284.2" cy="258.6" r="2.75" fill="#34d24a"/>
<polyline points="314.5,259.9 316.1,269.1" fill="none" stroke="#ee3a2c" stroke-width="4.42" stroke-linecap="round" stroke-linejoin="round"/>
<circle cx="330.3" cy="257.8" r="2.65" fill="#34d6dc"/>
<circle cx="335.2" cy="257.8" r="2.65" fill="#2ea4f0"/>
<circle cx="336.8" cy="262.7" r="2.75" fill="#34d6dc"/>
<circle cx="341.3" cy="261.9" r="2.75" fill="#34d6dc"/>
<circle cx="357.9" cy="261.0" r="2.75" fill="#34d6dc"/>
<circle cx="378.1" cy="257.8" r="2.65" fill="#34d6dc"/>
<circle cx="271.3" cy="268.7" r="2.85" fill="#34d24a"/>
<circle cx="277.8" cy="270.8" r="2.85" fill="#34d24a"/>
<circle cx="323.5" cy="269.9" r="2.75" fill="#34d6dc"/>
<circle cx="328.7" cy="269.9" r="2.75" fill="#3050f0"/>
<circle cx="328.7" cy="273.2" r="2.65" fill="#9a34e0"/>
<polyline points="327.9,282.1 330.7,275.6 335.2,271.2 340.9,270.8 345.7,274.0 343.6,279.7" fill="none" stroke="#ee3a2c" stroke-width="4.42" stroke-linecap="round" stroke-linejoin="round"/>
<circle cx="311.7" cy="274.5" r="2.75" fill="#34d6dc"/>
<circle cx="312.2" cy="278.0" r="2.75" fill="#34d6dc"/>
<circle cx="273.4" cy="277.7" r="2.75" fill="#34d6dc"/>
<circle cx="284.2" cy="280.0" r="2.75" fill="#3050f0"/>
<polyline points="284.2,283.7 281.8,291.0" fill="none" stroke="#ee3a2c" stroke-width="4.16" stroke-linecap="round" stroke-linejoin="round"/>
<circle cx="277.8" cy="284.5" r="2.75" fill="#3050f0"/>
<circle cx="267.2" cy="284.5" r="2.75" fill="#34d6dc"/>
<circle cx="264.8" cy="294.2" r="2.75" fill="#34d6dc"/>
<polyline points="273.7,287.7 276.6,297.5 281.0,300.7" fill="none" stroke="#ee3a2c" stroke-width="4.42" stroke-linecap="round" stroke-linejoin="round"/>
<circle cx="270.8" cy="295.0" r="2.75" fill="#3050f0"/>
<circle cx="278.6" cy="295.8" r="2.75" fill="#3050f0"/>
<circle cx="287.5" cy="291.0" r="2.75" fill="#3050f0"/>
<circle cx="291.5" cy="298.7" r="2.75" fill="#2ea4f0"/>
<circle cx="319.0" cy="283.2" r="2.75" fill="#3050f0"/>
<circle cx="338.1" cy="281.6" r="2.75" fill="#3050f0"/>
<circle cx="321.9" cy="289.0" r="2.75" fill="#ee3a2c"/>
<circle cx="355.4" cy="277.7" r="2.75" fill="#34d6dc"/>
<circle cx="374.8" cy="272.4" r="2.75" fill="#34d24a"/>
<circle cx="361.9" cy="296.2" r="2.75" fill="#2ea4f0"/>
<circle cx="367.6" cy="293.4" r="2.25" fill="#ee3a2c"/>
<circle cx="337.6" cy="301.5" r="2.75" fill="#3050f0"/>
<polyline points="341.7,300.7 343.3,306.4 344.6,311.7" fill="none" stroke="#ee3a2c" stroke-width="4.42" stroke-linecap="round" stroke-linejoin="round"/>
<circle cx="342.5" cy="313.6" r="2.75" fill="#9a34e0"/>
<circle cx="371.6" cy="308.0" r="2.65" fill="#ee3a2c"/>
<circle cx="383.7" cy="314.9" r="2.75" fill="#34d24a"/>
<circle cx="323.9" cy="310.4" r="2.75" fill="#34d6dc"/>
<circle cx="331.2" cy="309.6" r="2.75" fill="#34d6dc"/>
<circle cx="334.9" cy="313.6" r="2.75" fill="#34d6dc"/>
<circle cx="293.9" cy="316.9" r="2.75" fill="#34d6dc"/>
<circle cx="302.0" cy="316.1" r="2.75" fill="#34d6dc"/>
<circle cx="309.6" cy="316.9" r="2.75" fill="#34d24a"/>
<circle cx="314.2" cy="321.4" r="2.75" fill="#34d6dc"/>
<circle cx="320.3" cy="316.5" r="2.75" fill="#2ea4f0"/>
<circle cx="327.4" cy="317.7" r="2.85" fill="#ee3a2c"/>
<circle cx="338.1" cy="322.0" r="2.75" fill="#34d6dc"/>
<circle cx="345.7" cy="319.3" r="2.75" fill="#34d6dc"/>
<circle cx="347.3" cy="321.7" r="2.75" fill="#34d6dc"/>
<polyline points="353.0,312.0 354.6,321.7 352.2,331.4" fill="none" stroke="#ee3a2c" stroke-width="4.42" stroke-linecap="round" stroke-linejoin="round"/>
<polyline points="354.6,321.7 361.1,321.7" fill="none" stroke="#ee3a2c" stroke-width="3.90" stroke-linecap="round" stroke-linejoin="round"/>
<circle cx="357.0" cy="318.2" r="2.75" fill="#9a34e0"/>
<circle cx="287.9" cy="323.7" r="2.75" fill="#34d6dc"/>
<circle cx="293.9" cy="326.6" r="2.75" fill="#3050f0"/>
<circle cx="294.7" cy="329.5" r="2.65" fill="#9a34e0"/>
<circle cx="325.2" cy="327.9" r="2.75" fill="#34d6dc"/>
<circle cx="273.4" cy="329.8" r="2.75" fill="#34d24a"/>
<polyline points="375.3,326.3 377.6,331.4" fill="none" stroke="#ee3a2c" stroke-width="4.16" stroke-linecap="round" stroke-linejoin="round"/>
<circle cx="348.1" cy="330.6" r="2.65" fill="#3050f0"/>
<circle cx="155.8" cy="333.6" r="2.75" fill="#ee3a2c"/>
<circle cx="166.3" cy="343.3" r="2.85" fill="#34d24a"/>
<circle cx="188.2" cy="340.9" r="2.75" fill="#34d24a"/>
<circle cx="197.9" cy="337.7" r="2.75" fill="#eee030"/>
<circle cx="199.5" cy="344.6" r="2.75" fill="#eee030"/>
<circle cx="179.3" cy="349.0" r="2.75" fill="#3050f0"/>
<circle cx="208.4" cy="333.3" r="2.65" fill="#34d6dc"/>
<circle cx="214.9" cy="333.3" r="2.45" fill="#ee3a2c"/>
<circle cx="155.8" cy="348.2" r="2.65" fill="#eee030"/>
<circle cx="155.0" cy="354.7" r="2.65" fill="#eee030"/>
<circle cx="154.7" cy="362.7" r="2.65" fill="#eee030"/>
<circle cx="156.3" cy="367.9" r="2.65" fill="#eee030"/>
<circle cx="162.3" cy="368.4" r="2.75" fill="#34d24a"/>
<circle cx="164.4" cy="373.7" r="2.75" fill="#eee030"/>
<circle cx="158.3" cy="374.1" r="2.75" fill="#34d24a"/>
<circle cx="157.4" cy="378.9" r="2.75" fill="#34d24a"/>
<circle cx="160.2" cy="382.2" r="2.75" fill="#36e0a8"/>
<circle cx="155.8" cy="387.8" r="2.75" fill="#34d6dc"/>
<circle cx="155.0" cy="392.7" r="2.75" fill="#34d6dc"/>
<circle cx="163.1" cy="394.3" r="2.85" fill="#ee3a2c"/>
<circle cx="163.4" cy="398.3" r="2.85" fill="#ee3a2c"/>
<circle cx="157.4" cy="400.0" r="2.75" fill="#3050f0"/>
<circle cx="161.5" cy="402.4" r="2.75" fill="#9a34e0"/>
<circle cx="165.5" cy="403.2" r="2.65" fill="#9a34e0"/>
<circle cx="156.6" cy="405.6" r="2.65" fill="#2ea4f0"/>
<circle cx="160.7" cy="349.8" r="1.95" fill="#34d24a"/>
<circle cx="160.7" cy="356.3" r="1.95" fill="#34d24a"/>
<polyline points="174.8,359.8 179.0,354.7" fill="none" stroke="#ee3a2c" stroke-width="4.42" stroke-linecap="round" stroke-linejoin="round"/>
<circle cx="186.1" cy="357.6" r="2.75" fill="#34d6dc"/>
<polyline points="195.5,355.5 196.3,359.8" fill="none" stroke="#eee030" stroke-width="4.16" stroke-linecap="round" stroke-linejoin="round"/>
<circle cx="169.6" cy="362.7" r="2.75" fill="#2ea4f0"/>
<circle cx="192.6" cy="367.9" r="2.75" fill="#eee030"/>
<circle cx="213.3" cy="350.6" r="2.75" fill="#2ea4f0"/>
<polyline points="220.6,350.6 216.5,357.9 214.6,364.7" fill="none" stroke="#ee3a2c" stroke-width="4.16" stroke-linecap="round" stroke-linejoin="round"/>
<circle cx="211.7" cy="370.0" r="2.75" fill="#34d6dc"/>
<circle cx="212.9" cy="373.3" r="2.75" fill="#34d6dc"/>
<circle cx="202.8" cy="384.6" r="2.75" fill="#34d6dc"/>
<circle cx="210.8" cy="386.2" r="2.75" fill="#9a34e0"/>
<circle cx="215.2" cy="385.4" r="2.75" fill="#3050f0"/>
<polyline points="212.0,390.3 211.3,394.8" fill="none" stroke="#ee3a2c" stroke-width="3.90" stroke-linecap="round" stroke-linejoin="round"/>
<circle cx="183.3" cy="389.9" r="2.75" fill="#ee3a2c"/>
<circle cx="197.9" cy="398.0" r="2.85" fill="#34d24a"/>
<circle cx="180.1" cy="406.4" r="2.45" fill="#34d24a"/>
<circle cx="256.8" cy="332.8" r="2.45" fill="#ee3a2c"/>
<circle cx="263.7" cy="332.8" r="2.75" fill="#34d6dc"/>
<circle cx="272.2" cy="332.8" r="2.45" fill="#34d24a"/>
<circle cx="295.6" cy="334.4" r="2.85" fill="#9a34e0"/>
<circle cx="298.1" cy="338.5" r="2.85" fill="#9a34e0"/>
<polyline points="311.0,333.6 315.0,334.9" fill="none" stroke="#ee3a2c" stroke-width="3.90" stroke-linecap="round" stroke-linejoin="round"/>
<circle cx="312.6" cy="338.5" r="2.75" fill="#3050f0"/>
<circle cx="312.6" cy="342.0" r="2.75" fill="#2ea4f0"/>
<polyline points="229.3,339.3 226.9,343.3" fill="none" stroke="#ee3a2c" stroke-width="3.90" stroke-linecap="round" stroke-linejoin="round"/>
<polyline points="222.0,348.2 224.4,347.4 229.3,353.0" fill="none" stroke="#ee3a2c" stroke-width="4.42" stroke-linecap="round" stroke-linejoin="round"/>
<circle cx="249.8" cy="339.3" r="2.85" fill="#34d6dc"/>
<circle cx="252.7" cy="339.8" r="2.85" fill="#34d6dc"/>
<circle cx="235.8" cy="351.1" r="2.75" fill="#34d6dc"/>
<circle cx="241.4" cy="357.6" r="2.75" fill="#34d6dc"/>
<circle cx="237.9" cy="362.4" r="2.75" fill="#34d6dc"/>
<circle cx="279.4" cy="349.5" r="2.75" fill="#ee3a2c"/>
<circle cx="281.5" cy="349.8" r="2.65" fill="#9a34e0"/>
<circle cx="289.6" cy="344.9" r="2.75" fill="#34d6dc"/>
<circle cx="292.4" cy="347.4" r="2.75" fill="#34d6dc"/>
<circle cx="295.6" cy="352.2" r="2.75" fill="#34d24a"/>
<circle cx="292.4" cy="356.3" r="2.85" fill="#34d24a"/>
<circle cx="302.9" cy="346.9" r="2.75" fill="#34d6dc"/>
<circle cx="303.7" cy="350.6" r="2.75" fill="#34d6dc"/>
<circle cx="308.6" cy="352.7" r="2.75" fill="#34d6dc"/>
<circle cx="324.8" cy="340.9" r="2.75" fill="#34d24a"/>
<circle cx="333.7" cy="339.8" r="2.75" fill="#34d6dc"/>
<circle cx="341.7" cy="353.0" r="2.75" fill="#3050f0"/>
<polyline points="260.0,356.6 262.5,366.3 265.7,370.8" fill="none" stroke="#ee3a2c" stroke-width="4.42" stroke-linecap="round" stroke-linejoin="round"/>
<circle cx="265.7" cy="361.1" r="2.75" fill="#3050f0"/>
<circle cx="269.2" cy="360.3" r="2.75" fill="#34d6dc"/>
<circle cx="277.0" cy="359.8" r="2.75" fill="#34d6dc"/>
<circle cx="269.7" cy="368.4" r="2.75" fill="#3050f0"/>
<circle cx="274.6" cy="369.2" r="2.75" fill="#34d6dc"/>
<circle cx="245.5" cy="366.8" r="2.75" fill="#ee3a2c"/>
<polyline points="249.5,372.1 252.7,377.3" fill="none" stroke="#ee3a2c" stroke-width="4.16" stroke-linecap="round" stroke-linejoin="round"/>
<circle cx="255.2" cy="376.5" r="2.75" fill="#9a34e0"/>
<circle cx="264.9" cy="375.4" r="2.75" fill="#3050f0"/>
<circle cx="255.2" cy="383.0" r="2.75" fill="#2ea4f0"/>
<circle cx="262.5" cy="382.2" r="2.75" fill="#36e0a8"/>
<circle cx="269.2" cy="383.8" r="2.75" fill="#34d24a"/>
<circle cx="244.7" cy="380.5" r="2.75" fill="#34d6dc"/>
<circle cx="235.8" cy="379.7" r="2.85" fill="#34d24a"/>
<circle cx="224.4" cy="384.6" r="2.85" fill="#34d24a"/>
<circle cx="239.5" cy="389.0" r="2.85" fill="#eee030"/>
<circle cx="234.9" cy="393.5" r="2.85" fill="#f49030"/>
<circle cx="281.9" cy="378.6" r="2.85" fill="#eee030"/>
<circle cx="298.1" cy="362.4" r="2.75" fill="#2ea4f0"/>
<circle cx="302.6" cy="358.7" r="2.75" fill="#3050f0"/>
<circle cx="304.5" cy="363.6" r="2.75" fill="#ee3a2c"/>
<circle cx="310.2" cy="366.0" r="2.75" fill="#3050f0"/>
<circle cx="292.9" cy="371.2" r="2.85" fill="#34d24a"/>
<circle cx="307.8" cy="373.7" r="2.75" fill="#34d6dc"/>
<circle cx="301.0" cy="377.3" r="2.75" fill="#34d24a"/>
<circle cx="300.5" cy="383.0" r="2.75" fill="#34d6dc"/>
<circle cx="317.5" cy="361.4" r="2.75" fill="#34d6dc"/>
<circle cx="324.8" cy="362.7" r="2.45" fill="#ee3a2c"/>
<polyline points="330.1,360.8 334.5,357.9" fill="none" stroke="#ee3a2c" stroke-width="4.16" stroke-linecap="round" stroke-linejoin="round"/>
<circle cx="318.8" cy="373.3" r="2.75" fill="#2ea4f0"/>
<circle cx="340.1" cy="374.9" r="2.85" fill="#eee030"/>
<circle cx="339.3" cy="382.5" r="2.85" fill="#eee030"/>
<circle cx="333.3" cy="386.2" r="2.85" fill="#eee030"/>
<circle cx="275.1" cy="392.2" r="2.85" fill="#eee030"/>
<circle cx="272.5" cy="397.5" r="2.85" fill="#eee030"/>
<circle cx="295.6" cy="393.2" r="2.85" fill="#ee3a2c"/>
<circle cx="315.9" cy="395.9" r="2.85" fill="#eee030"/>
<circle cx="304.5" cy="400.8" r="2.75" fill="#34d6dc"/>
<circle cx="291.6" cy="403.2" r="2.75" fill="#ee3a2c"/>
<circle cx="334.5" cy="399.2" r="2.75" fill="#34d24a"/>
<circle cx="247.9" cy="404.0" r="2.75" fill="#34d6dc"/>
<circle cx="258.4" cy="404.8" r="2.75" fill="#34d6dc"/>
<polyline points="353.9,328.7 348.0,340.3 345.2,348.0" fill="none" stroke="#ee3a2c" stroke-width="4.16" stroke-linecap="round" stroke-linejoin="round"/>
<circle cx="345.5" cy="349.0" r="2.75" fill="#9a34e0"/>
<circle cx="341.3" cy="352.9" r="2.75" fill="#3050f0"/>
<polyline points="377.6,331.4 381.0,337.4" fill="none" stroke="#ee3a2c" stroke-width="3.90" stroke-linecap="round" stroke-linejoin="round"/>
<circle cx="367.4" cy="330.6" r="2.75" fill="#34d6dc"/>
<circle cx="364.5" cy="336.0" r="2.75" fill="#34d24a"/>
<circle cx="370.9" cy="340.7" r="2.75" fill="#34d6dc"/>
<circle cx="384.8" cy="332.6" r="2.65" fill="#34d6dc"/>
<polyline points="376.1,351.9 380.0,349.0" fill="none" stroke="#ee3a2c" stroke-width="3.90" stroke-linecap="round" stroke-linejoin="round"/>
<circle cx="370.3" cy="357.7" r="2.75" fill="#34d6dc"/>
<polyline points="365.0,365.0 368.0,370.0" fill="none" stroke="#ee3a2c" stroke-width="4.68" stroke-linecap="round" stroke-linejoin="round"/>
<circle cx="380.6" cy="375.2" r="2.75" fill="#34d24a"/>
<circle cx="368.4" cy="379.0" r="2.75" fill="#34d6dc"/>
<circle cx="361.6" cy="378.0" r="2.75" fill="#9a34e0"/>
<circle cx="180.1" cy="409.1" r="2.85" fill="#34d24a"/>
<circle cx="200.7" cy="410.7" r="2.75" fill="#eee030"/>
<circle cx="222.5" cy="409.4" r="2.75" fill="#eee030"/>
<circle cx="227.4" cy="409.1" r="2.75" fill="#eee030"/>
<circle cx="257.8" cy="409.9" r="2.65" fill="#3050f0"/>
<circle cx="164.3" cy="407.5" r="2.85" fill="#ee3a2c"/>
<circle cx="156.2" cy="408.8" r="2.75" fill="#34d6dc"/>
<circle cx="353.3" cy="389.9" r="2.75" fill="#34d24a"/>
<circle cx="355.8" cy="395.6" r="2.75" fill="#36e0a8"/>
<circle cx="345.0" cy="399.7" r="2.75" fill="#3050f0"/>
<circle cx="346.7" cy="405.5" r="2.75" fill="#ee3a2c"/>
<circle cx="370.5" cy="388.6" r="2.05" fill="#ee3a2c"/>
<circle cx="366.0" cy="401.0" r="2.05" fill="#ee3a2c"/>
<circle cx="385.0" cy="394.8" r="2.25" fill="#ee3a2c"/>
<polyline points="325.6,407.5 326.6,412.3" fill="none" stroke="#2ea4f0" stroke-width="4.42" stroke-linecap="round" stroke-linejoin="round"/>
<polyline points="326.0,422.5 328.0,416.5" fill="none" stroke="#ee3a2c" stroke-width="4.16" stroke-linecap="round" stroke-linejoin="round"/>
<circle cx="339.0" cy="417.8" r="3.05" fill="#36e0a8"/>
<circle cx="303.9" cy="410.9" r="2.05" fill="#34d24a"/>
<polyline points="374.5,415.2 379.5,414.4" fill="none" stroke="#34d24a" stroke-width="3.90" stroke-linecap="round" stroke-linejoin="round"/>
<circle cx="283.0" cy="407.1" r="2.75" fill="#34d6dc"/>
<circle cx="364.8" cy="422.4" r="1.95" fill="#eee030"/>
<circle cx="355.7" cy="422.0" r="1.75" fill="#eee030"/>
<circle cx="265.0" cy="412.0" r="1.65" fill="#34d6dc"/>
<circle cx="333.5" cy="423.0" r="1.75" fill="#34d6dc"/>
<polyline points="21.5,424.5 26.0,428.0" fill="none" stroke="#ee3a2c" stroke-width="3.90" stroke-linecap="round" stroke-linejoin="round"/>
<polyline points="62.0,425.5 66.5,433.5" fill="none" stroke="#ee3a2c" stroke-width="4.16" stroke-linecap="round" stroke-linejoin="round"/>
<circle cx="62.8" cy="424.5" r="2.25" fill="#9a34e0"/>
<circle cx="72.7" cy="431.8" r="1.95" fill="#3050f0"/>
<circle cx="79.7" cy="431.5" r="2.65" fill="#34d6dc"/>
<circle cx="83.7" cy="428.8" r="2.75" fill="#36e0a8"/>
<circle cx="87.6" cy="427.8" r="2.75" fill="#34d24a"/>
<circle cx="91.6" cy="426.8" r="2.75" fill="#34d24a"/>
<circle cx="95.6" cy="425.8" r="2.45" fill="#34d24a"/>
<circle cx="84.5" cy="431.5" r="2.45" fill="#34d24a"/>
<circle cx="83.7" cy="424.8" r="1.85" fill="#36e0a8"/>
<circle cx="101.6" cy="424.4" r="1.85" fill="#36e0a8"/>
<circle cx="35.9" cy="442.7" r="2.45" fill="#34d6dc"/>
<circle cx="40.5" cy="443.5" r="2.45" fill="#34d6dc"/>
<circle cx="45.9" cy="442.3" r="2.25" fill="#34d6dc"/>
<polyline points="129.0,190.0 132.5,210.0 135.5,228.0 138.0,242.0" fill="none" stroke="#ee3a2c" stroke-width="4.68" stroke-linecap="round" stroke-linejoin="round"/>
<circle cx="131.0" cy="196.0" r="2.45" fill="#ee3a2c"/>
<circle cx="134.0" cy="218.0" r="2.45" fill="#ee3a2c"/>
<circle cx="137.5" cy="236.0" r="2.45" fill="#ee3a2c"/>
<circle cx="128.0" cy="186.0" r="2.25" fill="#ee3a2c"/>
<circle cx="140.0" cy="246.0" r="2.25" fill="#ee3a2c"/>
<circle cx="136.0" cy="206.0" r="1.85" fill="#f49030"/>
<circle cx="133.0" cy="226.0" r="1.85" fill="#34d24a"/>
</g></g>
<polygon points="102.8,98.4 320.3,45.1 368.7,287.7 150.2,339.8" fill="none" stroke="#f8f010" stroke-width="7.4" stroke-linejoin="miter" filter="url(#bl2)"/>
<text x="25.8" y="53.3" font-size="15" stroke-width="0.35" textLength="79" lengthAdjust="spacingAndGlyphs"><tspan fill="#4f7fc0" stroke="#4f7fc0">S</tspan><tspan fill="#3aaa4a" stroke="#3aaa4a">P</tspan><tspan fill="#e6de3a" stroke="#e6de3a">O</tspan><tspan fill="#d8262a" stroke="#d8262a">T</tspan><tspan fill="#f4f4f4" stroke="#f4f4f4"> (NSCs)</tspan></text>
<text x="25.8" y="74.4" font-size="15" fill="#c8232b" stroke="#c8232b" stroke-width="0.35" textLength="94" lengthAdjust="spacingAndGlyphs">SURFACE (BVs)</text>
<text x="228.8" y="187.5" font-size="15.8" fill="#fff" stroke="#fff" stroke-width="0.3" textLength="27" lengthAdjust="spacingAndGlyphs">ARC</text>
<text x="35.5" y="258.2" font-size="16" fill="#fff" stroke="#fff" stroke-width="0.3" textLength="18" lengthAdjust="spacingAndGlyphs">3V</text>
<text x="123.5" y="429.3" font-size="15.5" fill="#fff" stroke="#fff" stroke-width="0.25" textLength="184" lengthAdjust="spacingAndGlyphs">Distance to proximal BV (µm)</text>
<rect x="31.3" y="413.3" width="57.4" height="3.2" fill="#fff"/>
<text x="45.5" y="412.2" font-size="10.5" fill="#fff" stroke="#fff" stroke-width="0.2" textLength="27.5" lengthAdjust="spacingAndGlyphs">200 um</text>
<text x="24.3" y="434.2" font-size="11" fill="#fff" textLength="36" lengthAdjust="spacingAndGlyphs">0.000</text>
<text x="331.4" y="434.2" font-size="11" fill="#fff" textLength="44.5" lengthAdjust="spacingAndGlyphs">80.000</text>
<text x="101.5" y="434.2" font-size="11" fill="#fff">1</text>
<text x="366.8" y="410.2" font-size="8" fill="#ddd" textLength="10.5" lengthAdjust="spacingAndGlyphs">µm</text>
<defs><linearGradient id="cb" x1="0" x2="1" y1="0" y2="0"><stop offset="0" stop-color="#7a2ee8"/><stop offset="0.12" stop-color="#3a2cff"/><stop offset="0.34" stop-color="#00e4ff"/><stop offset="0.49" stop-color="#00e050"/><stop offset="0.64" stop-color="#90e000"/><stop offset="0.79" stop-color="#ffee00"/><stop offset="0.89" stop-color="#ffa000"/><stop offset="1" stop-color="#ff2a10"/></linearGradient></defs>
<rect x="24" y="435.5" width="351.5" height="6.3" fill="url(#cb)"/>
</svg>
</body></html>
